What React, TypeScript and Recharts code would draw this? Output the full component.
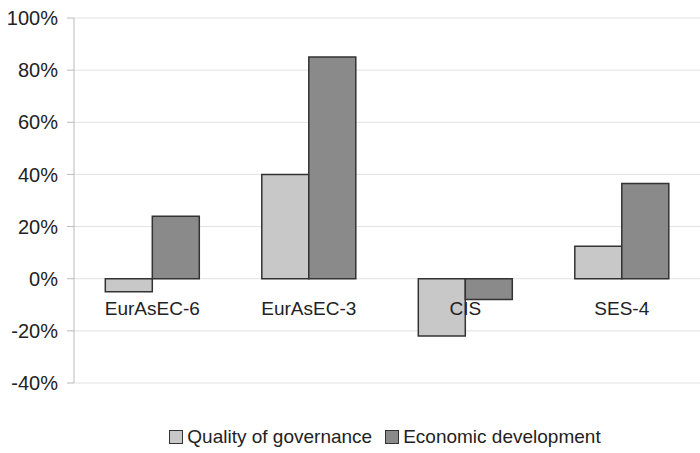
import React from 'react';
import { BarChart, Bar, XAxis, YAxis, CartesianGrid, Legend, LabelList } from 'recharts';

const categories = ['EurAsEC-6', 'EurAsEC-3', 'CIS', 'SES-4'];
const quality = [-5, 40, -22, 12.5];
const economic = [24, 85, -8, 36.5];
const yTicks = [-40, -20, 0, 20, 40, 60, 80, 100];

const chartData = categories.map((name, i) => ({
  name,
  quality: quality[i],
  economic: economic[i],
}));

const FONT = '"Liberation Sans", Arial, sans-serif';
const TOP = 18;
const PLOT_H = 365;
// y of the zero line (category labels hang a fixed distance under it)
const ZERO_Y = TOP + (PLOT_H * 100) / 140;

// category label drawn from the second bar so it sits on top of the first bar
const CategoryLabel = (props: any) => {
  const { x, value } = props;
  return (
    <text x={x} y={ZERO_Y + 36} textAnchor="middle" fill="#222" fontSize={19} fontFamily={FONT}>
      {value}
    </text>
  );
};

const LegendBox = () => (
  <div
    style={{
      display: 'flex',
      justifyContent: 'center',
      fontFamily: FONT,
      fontSize: 19,
      color: '#222',
      paddingLeft: 70,
    }}
  >
    <div style={{ display: 'flex', alignItems: 'center', gap: 4, lineHeight: '22px' }}>
      <span style={{ width: 12, height: 12, background: '#c8c8c8', border: '1px solid #333', display: 'inline-block' }} />
      <span style={{ marginRight: 9 }}>Quality of governance</span>
      <span style={{ width: 12, height: 12, background: '#8a8a8a', border: '1px solid #333', display: 'inline-block' }} />
      <span>Economic development</span>
    </div>
  </div>
);

const App: React.FC = () => {
  return (
    <div style={{ position: 'absolute', left: 0, top: 0, background: '#fff' }}>
      <BarChart
        width={700}
        height={453}
        data={chartData}
        margin={{ top: TOP, right: 0, left: 0, bottom: 0 }}
        barCategoryGap="20%"
        barGap={0}
      >
        <CartesianGrid vertical={false} stroke="#e2e2e2" />
        <XAxis dataKey="name" axisLine={false} tickLine={false} tick={false} height={1} />
        <YAxis
          domain={[-40, 100]}
          ticks={yTicks}
          interval={0}
          width={74}
          tickFormatter={(v: number) => `${v}%`}
          tick={{ fill: '#222', fontSize: 20, fontFamily: FONT }}
          axisLine={{ stroke: '#bbb' }}
          tickLine={{ stroke: '#bbb' }}
          tickSize={7}
          tickMargin={9}
        />
        <Legend verticalAlign="bottom" content={<LegendBox />} wrapperStyle={{ height: 27, paddingTop: 42 }} />
        <Bar dataKey="quality" name="Quality of governance" fill="#c8c8c8" stroke="#333" strokeWidth={1.5} isAnimationActive={false} />
        <Bar dataKey="economic" name="Economic development" fill="#8a8a8a" stroke="#333" strokeWidth={1.5} isAnimationActive={false}>
          <LabelList dataKey="name" content={<CategoryLabel />} />
        </Bar>
      </BarChart>
    </div>
  );
};

export default App;
